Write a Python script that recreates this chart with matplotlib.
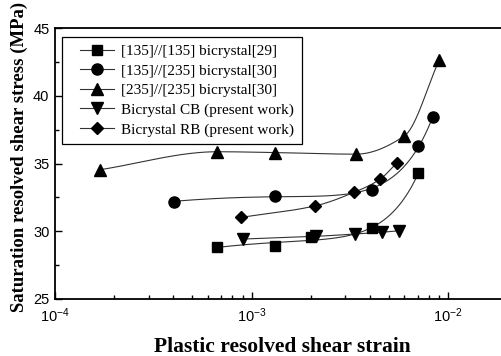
import numpy as np
import matplotlib
matplotlib.use("Agg")
import matplotlib.pyplot as plt
from matplotlib.lines import Line2D
from matplotlib.legend_handler import HandlerLine2D
from matplotlib.ticker import LogLocator, MultipleLocator, NullFormatter

# Data
labels = ["[135]//[135] bicrystal[29]",
          "[135]//[235] bicrystal[30]",
          "[235]//[235] bicrystal[30]",
          "Bicrystal CB (present work)",
          "Bicrystal RB (present work)"]
markers = ["s", "o", "^", "v", "D"]

sq_x = [6.7e-4, 1.32e-3, 2.0e-3, 4.1e-3, 7.06e-3]
sq_y = [28.87, 28.94, 29.56, 30.22, 34.29]

ci_x = [4.04e-4, 1.32e-3, 4.1e-3, 7.0e-3, 8.4e-3]
ci_y = [32.2, 32.62, 33.06, 36.3, 38.43]

tu_x = [1.69e-4, 6.7e-4, 1.32e-3, 3.4e-3, 6.0e-3, 9.03e-3]
tu_y = [34.55, 35.88, 35.82, 35.7, 37.05, 42.67]

td_x = [9.08e-4, 2.12e-3, 3.37e-3, 4.6e-3, 5.6e-3]
td_y = [29.43, 29.63, 29.8, 29.93, 30.04]

di_x = [8.85e-4, 2.11e-3, 3.31e-3, 4.51e-3, 5.5e-3]
di_y = [31.03, 31.88, 32.87, 33.85, 35.07]

series = [(sq_x, sq_y), (ci_x, ci_y), (tu_x, tu_y), (td_x, td_y), (di_x, di_y)]
msizes = [7, 8, 8.5, 8.5, 6.5]
curve_kind = ["fit", "fit", "pchip", "pchip", "pchip"]


def smooth_fit(x, y, n=200):
    x = np.asarray(x); y = np.asarray(y)
    A = np.column_stack([np.ones_like(x), np.log10(x), x, x ** 2])
    coef, *_ = np.linalg.lstsq(A, y, rcond=None)
    xs = np.logspace(np.log10(x.min()), np.log10(x.max()), n)
    B = np.column_stack([np.ones_like(xs), np.log10(xs), xs, xs ** 2])
    return xs, B @ coef


def smooth_pchip(x, y, n=40):
    # shape-preserving cubic through the points in (log10 x, y) space
    lx = np.log10(np.asarray(x, float)); y = np.asarray(y, float)
    h = np.diff(lx); d = np.diff(y) / h
    m = np.zeros_like(y)
    for k in range(1, len(y) - 1):
        if d[k - 1] * d[k] > 0:
            w1 = 2 * h[k] + h[k - 1]; w2 = h[k] + 2 * h[k - 1]
            m[k] = (w1 + w2) / (w1 / d[k - 1] + w2 / d[k])
    m[0] = d[0]; m[-1] = d[-1]
    xs_all, ys_all = [], []
    t = np.linspace(0, 1, n)
    for k in range(len(y) - 1):
        h00 = 2 * t ** 3 - 3 * t ** 2 + 1; h10 = t ** 3 - 2 * t ** 2 + t
        h01 = -2 * t ** 3 + 3 * t ** 2; h11 = t ** 3 - t ** 2
        yy = h00 * y[k] + h10 * h[k] * m[k] + h01 * y[k + 1] + h11 * h[k] * m[k + 1]
        xs_all.append(lx[k] + t * h[k]); ys_all.append(yy)
    return 10 ** np.concatenate(xs_all), np.concatenate(ys_all)


fig = plt.figure(figsize=(5.01, 3.56), dpi=100)
ax = fig.add_axes([55 / 501, 57 / 356, 1 - 55 / 501, (299 - 28.3) / 356])

for (x, y), m, ms, lab, kind in zip(series, markers, msizes, labels, curve_kind):
    xs, ys = smooth_fit(x, y) if kind == "fit" else smooth_pchip(x, y)
    ax.plot(xs, ys, color="#333333", lw=0.8, zorder=2)
    ax.plot(x, y, linestyle="none", marker=m, ms=ms, color="black", zorder=3)
    ax.plot([], [], color="#333333", lw=0.8, marker=m, ms=ms, mfc="black", mec="black", label=lab)

ax.set_xscale("log")
ax.set_xlim(1e-4, 10 ** (-4 + 446 / 196.5))
ax.set_ylim(25, 45)

ax.yaxis.set_major_locator(MultipleLocator(5))
ax.yaxis.set_minor_locator(MultipleLocator(2.5))
ax.xaxis.set_major_locator(LogLocator(base=10, numticks=10))
ax.xaxis.set_minor_locator(LogLocator(base=10, subs=np.arange(2, 10), numticks=20))
ax.xaxis.set_minor_formatter(NullFormatter())

ax.tick_params(axis="both", which="major", direction="in", length=5, width=1, labelsize=10.5)
ax.tick_params(axis="both", which="minor", direction="in", length=3, width=1)
for lab in ax.get_xticklabels() + ax.get_yticklabels():
    lab.set_fontfamily("Liberation Sans")
ax.tick_params(axis="x", pad=5.5)
ax.tick_params(axis="y", pad=4)

ax.spines["right"].set_visible(False)
for s in ["left", "bottom", "top"]:
    ax.spines[s].set_linewidth(1.3)

ax.set_xlabel("Plastic resolved shear strain", fontfamily="Liberation Serif",
              fontweight="bold", fontsize=15.5)
ax.xaxis.set_label_coords((282 - 55) / 446, -0.14)
ax.set_ylabel("Saturation resolved shear stress (MPa)", fontfamily="Liberation Serif",
              fontweight="bold", fontsize=13.5)
ax.yaxis.set_label_coords(-(55 - 28) / 446, 1 - (156.5 - 28.3) / 270.7)

leg = ax.legend(loc="upper left", bbox_to_anchor=((62 - 55) / 446, 1 - (37 - 28.3) / 270.7),
                borderaxespad=0,
                handler_map={Line2D: HandlerLine2D(xpad=0.68)},
                prop={"family": "Liberation Serif", "size": 11},
                frameon=True, fancybox=False, edgecolor="black", framealpha=1,
                handlelength=2.9, handletextpad=0.46, labelspacing=0.38, borderpad=0.5)
leg.get_frame().set_linewidth(0.9)

fig.savefig("out.png", dpi=100)
